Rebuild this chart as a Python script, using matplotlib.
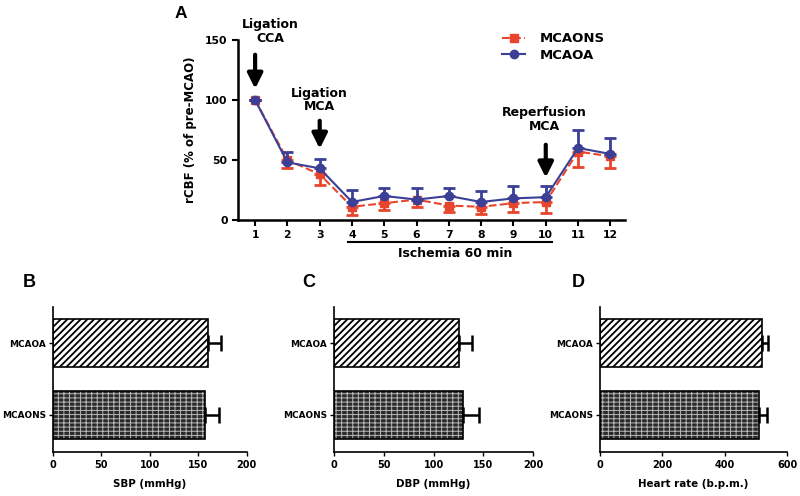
import numpy as np
import matplotlib.pyplot as plt
from matplotlib.lines import Line2D

plt.rcParams['font.family'] = ['DejaVu Sans']
plt.rcParams['font.weight'] = 'bold'
plt.rcParams['hatch.linewidth'] = 1.3

# panel A data
timepoints = np.arange(1, 13)
mcaoa_mean = [100, 48, 43, 15, 20, 17, 20, 15, 18, 19, 60, 55]
mcaoa_sd = [0, 9, 8, 10, 7, 10, 7, 9, 10, 9, 15, 13]
mcaons_mean = [100, 50, 38, 11, 14, 17, 12, 11, 14, 15, 57, 53]
mcaons_sd = [0, 7, 9, 7, 6, 6, 5, 6, 7, 9, 13, 10]

# bar panels data (order: MCAONS, MCAOA)
groups = ['MCAONS', 'MCAOA']
sbp_mean = [157, 160]
sbp_sd = [14, 13]
dbp_mean = [130, 126]
dbp_sd = [16, 13]
hr_mean = [510, 519]
hr_sd = [25, 19]

red = '#e8452c'
blue = '#3b3f96'

fig = plt.figure(figsize=(8, 4.96), dpi=100)

# ---- panel A
ax = fig.add_axes([0.2975, 0.5565, 0.484, 0.363])
ax.errorbar(timepoints, mcaons_mean, yerr=[mcaons_sd, [0]*12], color=red, ls='--', lw=1.5,
            marker='s', ms=6, capsize=4, capthick=2, elinewidth=2, zorder=2)
ax.errorbar(timepoints, mcaoa_mean, yerr=[[0]*12, mcaoa_sd], color=blue, ls='-', lw=1.5,
            marker='o', ms=6, capsize=4, capthick=2, elinewidth=2, zorder=3)
ax.set_xlim(0.47, 12.46)
ax.set_ylim(0, 150)
ax.set_xticks(timepoints)
ax.set_yticks([0, 50, 100, 150])
for s in ['top', 'right']:
    ax.spines[s].set_visible(False)
for s in ['left', 'bottom']:
    ax.spines[s].set_linewidth(1.8)
ax.tick_params(width=1.5, length=4, labelsize=7.8)
ax.set_ylabel('rCBF (% of pre-MCAO)', fontsize=8.5, fontweight='bold', labelpad=6)

# arrows and annotations: x, arrow top, arrow tip, text, text x, text bottom
arrows = [(1, 140, 107, 'Ligation\nCCA', 1.46, 146),
          (3, 85, 57, 'Ligation\nMCA', 3.0, 89),
          (10, 65, 33, 'Reperfusion\nMCA', 9.95, 72.5)]
for x, y0, y1, txt, tx, ty in arrows:
    ax.annotate('', xy=(x, y1), xytext=(x, y0),
                arrowprops=dict(arrowstyle='-|>,head_width=0.45,head_length=0.9', color='black', lw=3),
                annotation_clip=False)
    ax.text(tx, ty, txt, ha='center', va='bottom', fontsize=9, fontweight='bold',
            linespacing=1.05, clip_on=False)

ax.plot([3.88, 10.2], [-18.3, -18.3], color='black', lw=1.5, clip_on=False)
ax.text(7.2, -28.3, 'Ischemia 60 min', ha='center', va='center', fontsize=9, fontweight='bold')

handles = [Line2D([], [], color=red, ls='--', marker='s', ms=6, lw=1.5),
           Line2D([], [], color=blue, ls='-', marker='o', ms=6, lw=1.5)]
fig.legend(handles, ['MCAONS', 'MCAOA'], loc='upper left', bbox_to_anchor=(0.6275, 0.935),
           frameon=False, fontsize=9.5, handlelength=1.75, handletextpad=1.1,
           labelspacing=0.25, borderpad=0, borderaxespad=0)
fig.text(0.226, 0.972, 'A', fontsize=12.5, fontweight='bold', va='center', ha='center',
         family='Liberation Sans')

# ---- bar panels
def bar_panel(rect, means, sds, xmax, xticks, xlabel, letter, lx):
    b = fig.add_axes(rect)
    pos = [0, 1]
    b.barh(pos[1], means[1], height=0.667, color='white', edgecolor='black', hatch='/////', lw=1.2)
    with plt.rc_context({'hatch.linewidth': 0.7}):
        b.barh(pos[0], means[0], height=0.667, color='#2a2a2a', edgecolor='#b8b8b8',
               hatch='----|||', lw=0)
    b.barh(pos[0], means[0], height=0.667, color='none', edgecolor='black', lw=1.2)
    b.errorbar(means, pos, xerr=[[0, 0], sds], fmt='none', ecolor='black', elinewidth=1.8,
               capsize=6, capthick=1.8)
    b.set_xlim(0, xmax)
    b.set_ylim(-0.52, 1.5)
    b.set_xticks(xticks)
    b.set_yticks(pos)
    b.set_yticklabels(groups)
    for s in ['top', 'right']:
        b.spines[s].set_visible(False)
    for s in ['left', 'bottom']:
        b.spines[s].set_linewidth(1.2)
    b.tick_params(axis='y', width=1.0, length=3, labelsize=6.4, pad=2)
    b.tick_params(axis='x', width=1.0, length=3, labelsize=7, pad=3)
    b.set_xlabel(xlabel, fontsize=7.4, fontweight='bold', labelpad=6)
    fig.text(lx, 0.431, letter, fontsize=13, fontweight='bold', va='center', ha='center',
             family='Liberation Sans')

bar_panel([0.066, 0.0887, 0.2425, 0.292], sbp_mean, sbp_sd, 200, [0, 50, 100, 150, 200],
          'SBP (mmHg)', 'B', 0.036)
bar_panel([0.4175, 0.0887, 0.249, 0.292], dbp_mean, dbp_sd, 200, [0, 50, 100, 150, 200],
          'DBP (mmHg)', 'C', 0.386)
bar_panel([0.75, 0.0887, 0.234, 0.292], hr_mean, hr_sd, 600, [0, 200, 400, 600],
          'Heart rate (b.p.m.)', 'D', 0.723)

fig.savefig('out.png', dpi=100)
